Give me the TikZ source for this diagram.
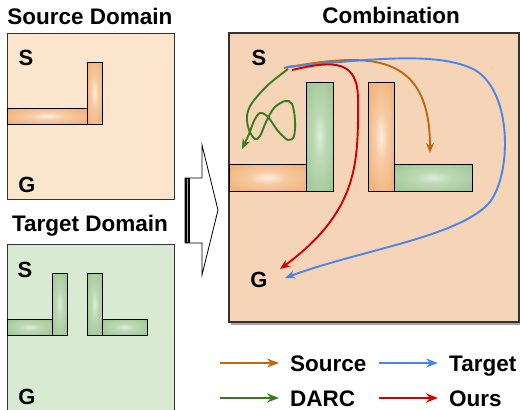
\documentclass[tikz,border=0pt]{standalone}
\usepackage{fontspec}
\setmainfont{Liberation Sans}
\usetikzlibrary{arrows.meta,shadows}
\definecolor{srcfill}{HTML}{FCE5CD}
\definecolor{tgtfill}{HTML}{D9EAD3}
\definecolor{combfill}{HTML}{F5D4B8}
\definecolor{worin}{HTML}{FDEDE0}
\definecolor{worout}{HTML}{EFA15C}
\definecolor{wgrin}{HTML}{DDEDD8}
\definecolor{wgrout}{HTML}{93BE86}
\colorlet{wormid}{worin!55!worout}
\colorlet{wgrmid}{wgrin!55!wgrout}
\definecolor{corange}{HTML}{C0680F}
\definecolor{cblue}{HTML}{4A86E8}
\definecolor{cgreen}{HTML}{3A7A1E}
\definecolor{cred}{HTML}{D40000}
\pgfdeclareradialshading{wallorange}{\pgfpoint{0bp}{0bp}}{color(0bp)=(worin); color(12bp)=(wormid); color(44bp)=(worout); color(72bp)=(worout)}
\pgfdeclareradialshading{wallgreen}{\pgfpoint{0bp}{0bp}}{color(0bp)=(wgrin); color(12bp)=(wgrmid); color(44bp)=(wgrout); color(72bp)=(wgrout)}
\tikzset{
  panel/.style={draw=black!80, line width=0.9pt},
  wallO/.style={draw=black, line width=0.8pt, shading=wallorange},
  wallG/.style={draw=black, line width=0.8pt, shading=wallgreen},
  lbl/.style={font=\fontsize{22}{26}\selectfont\bfseries, inner sep=0pt},
  ttl/.style={font=\fontsize{22.5}{26}\selectfont\bfseries, inner sep=0pt, anchor=base},
  leg/.style={font=\fontsize{22.5}{26}\selectfont\bfseries, inner sep=0pt, anchor=base west},
  tipA/.style={-{Stealth[length=10pt,width=8pt,inset=3pt]}},
  curve/.style={tipA, line width=1.9pt},
  legarrow/.style={-{Stealth[length=12pt,width=9pt,inset=4pt]}, line width=2.4pt},
}
\begin{document}
\begin{tikzpicture}[x=1pt,y=-1pt]
\useasboundingbox (0,0) rectangle (520,410);
% ---------- Source domain ----------
\node[ttl] (tsrc) at (90,24) {Source Domain};
\draw[panel, fill=srcfill] (7,33) rectangle (174,199);
\draw[wallO] (7,108) rectangle (87,124);
\draw[wallO] (87,62) rectangle (102,124);
\node[lbl] (s1) at (26,58) {S};
\node[lbl] (g1) at (27,185) {G};
% ---------- Target domain ----------
\node[ttl] (ttgt) at (90,231) {Target Domain};
\draw[panel, fill=tgtfill] (7,244) rectangle (174,420);
\draw[wallG] (7,319) rectangle (52,335);
\draw[wallG] (52,273) rectangle (67,335);
\draw[wallG] (87,273) rectangle (102,335);
\draw[wallG] (102,319) rectangle (147,335);
\node[lbl] (s2) at (25,270) {S};
\node[lbl] (g2) at (27,397) {G};
% ---------- block arrow ----------
\draw[fill=white, line width=0.8pt, line join=miter]
  (185,178) -- (202,178) -- (202,145) -- (218,210) -- (202,275) -- (202,243) -- (185,243) -- cycle;
\fill[black] (184.5,178) rectangle (190,243);
\draw[gray!70, line width=1.2pt] (187.3,179) -- (187.3,242);
% ---------- Combination ----------
\node[ttl] (tcomb) at (391,23) {Combination};
\draw[line width=1.3pt, draw=black!80, fill=combfill,
      drop shadow={shadow xshift=1.5pt, shadow yshift=-3pt, opacity=0.35, fill=black}]
  (229,33) rectangle (519,322);
\draw[wallO] (229,164) rectangle (306,191);
\draw[wallG] (306,82) rectangle (333,191);
\draw[wallO] (368,82) rectangle (394,191);
\draw[wallG] (394,164) rectangle (472,191);
\node[lbl] (s3) at (259,58) {S};
\node[lbl] (g3) at (259,280) {G};
\coordinate (stO) at (284,68);
\coordinate (stB) at (286,67);
\coordinate (stR) at (292,70);
\coordinate (stG) at (288,69);
\coordinate (endO) at (430,153);
\coordinate (endB) at (285,278);
\coordinate (endR) at (280,269);
% source path
\draw[curve, corange] (stO) .. controls (370,52) and (430,52) .. (endO);
% target path
\draw[curve, cblue] (stB) .. controls (380,58) and (440,52) .. (475,70)
  .. controls (512,92) and (512,172) .. (490,202)
  .. controls (460,237) and (360,250) .. (endB);
% ours path
\draw[curve, cred] (stR) .. controls (335,60) and (358,60) .. (358,100)
  .. controls (358,160) and (360,210) .. (endR);
% DARC path
\draw[curve, cgreen] plot[smooth, tension=0.55] coordinates {
  (288,69) (268,85) (252,103) (247,116) (249,130) (255,139) (260,136)
  (266,122) (274,108) (285,101) (292,104) (295,120) (294,136) (288,140)
  (278,131) (268,117) (260,113) (254,121) (249,134) (242,149)};
% ---------- Legend ----------
\coordinate (l1s) at (220,363); \coordinate (l1e) at (279,363);
\coordinate (l2s) at (379,363); \coordinate (l2e) at (438,363);
\coordinate (l3s) at (220,398); \coordinate (l3e) at (279,398);
\coordinate (l4s) at (379,398); \coordinate (l4e) at (438,398);
\draw[legarrow, corange] (l1s) -- (l1e);
\draw[legarrow, cblue] (l2s) -- (l2e);
\draw[legarrow, cgreen] (l3s) -- (l3e);
\draw[legarrow, cred] (l4s) -- (l4e);
\node[leg] (tl1) at (290,371) {Source};
\node[leg] (tl2) at (449,371) {Target};
\node[leg] (tl3) at (290,406) {DARC};
\node[leg] (tl4) at (449,406) {Ours};
\end{tikzpicture}
\end{document}
